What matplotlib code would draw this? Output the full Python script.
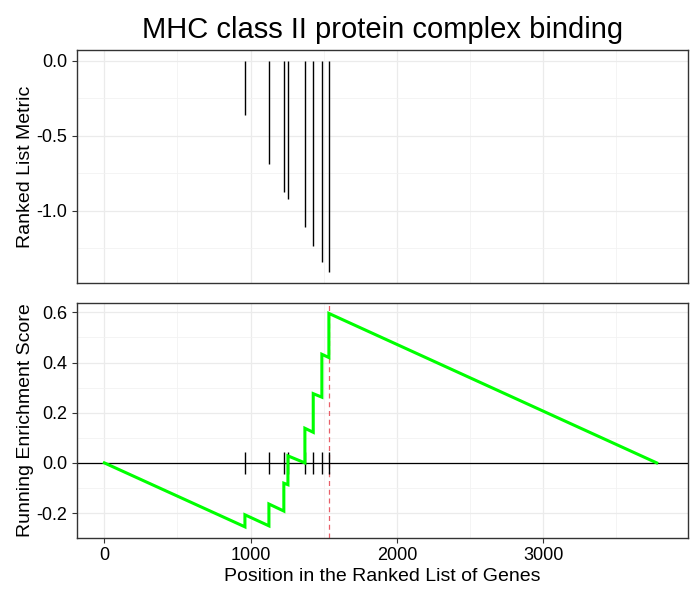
import matplotlib
matplotlib.use("Agg")
import matplotlib.pyplot as plt
from matplotlib.ticker import MultipleLocator

plt.rcParams['font.family'] = ['Liberation Sans', 'DejaVu Sans']

title = "MHC class II protein complex binding"

# hit positions and ranked list metric values
hit_pos = [961, 1125, 1227, 1255, 1371, 1428, 1487, 1535]
hit_metric = [-0.36, -0.686, -0.873, -0.92, -1.107, -1.233, -1.34, -1.41]

# running enrichment score vertices
es_x = [0, 961, 961, 1125, 1125, 1227, 1227, 1255, 1255, 1371, 1371,
        1428, 1428, 1487, 1487, 1535, 1535, 3776]
es_y = [0.0, -0.255, -0.207, -0.251, -0.164, -0.192, -0.081, -0.087, 0.028,
        0.0, 0.138, 0.122, 0.276, 0.262, 0.433, 0.420, 0.596, 0.0]

peak_pos = 1535

fig = plt.figure(figsize=(7, 6), dpi=100)
left, right = 77 / 700, 688 / 700
ax1 = fig.add_axes([left, 1 - 283 / 600, right - left, (283 - 50) / 600])
ax2 = fig.add_axes([left, 1 - 537.5 / 600, right - left, (537.5 - 303) / 600])

border = '#333333'
grid_major = '#EBEBEB'
grid_minor = '#F2F2F2'

xlim = (-187, 3990)

for ax in (ax1, ax2):
    ax.set_xlim(*xlim)
    ax.xaxis.set_major_locator(MultipleLocator(1000))
    ax.xaxis.set_minor_locator(MultipleLocator(500))
    ax.grid(True, which='major', color=grid_major, linewidth=0.9, zorder=0)
    ax.grid(True, which='minor', color=grid_minor, linewidth=0.6, zorder=0)
    ax.set_axisbelow(True)
    for s in ax.spines.values():
        s.set_color(border)
        s.set_linewidth(1.0)
    ax.tick_params(which='major', direction='out', length=3.5, width=0.8,
                   color=border, labelsize=13, labelcolor='black')
    ax.tick_params(which='minor', length=0)

# top panel
ax1.vlines(hit_pos, 0, hit_metric, color='black', linewidth=1.0, zorder=3)
ax1.set_ylim(-1.48, 0.07)
ax1.yaxis.set_major_locator(MultipleLocator(0.5))
ax1.yaxis.set_minor_locator(MultipleLocator(0.25))
ax1.set_yticks([0.0, -0.5, -1.0])
ax1.set_yticklabels(['0.0', '-0.5', '-1.0'])
ax1.tick_params(axis='x', which='both', length=0, labelbottom=False)
ax1.set_ylabel('Ranked List Metric', fontsize=14, labelpad=2)
ax1.set_title(title, fontsize=21, pad=9)

# bottom panel
ax2.set_ylim(-0.2975, 0.6375)
ax2.yaxis.set_major_locator(MultipleLocator(0.2))
ax2.yaxis.set_minor_locator(MultipleLocator(0.1))
ax2.axhline(0, color='black', linewidth=0.9, zorder=2)
ax2.vlines(hit_pos, -0.045, 0.045, color='black', linewidth=1.0, zorder=3)
ax2.axvline(peak_pos, color='#E8606A', linestyle=(0, (4, 3)), linewidth=0.9, zorder=2)
ax2.plot(es_x, es_y, color='#00FF00', linewidth=2.2, zorder=4,
         solid_joinstyle='miter')
ax2.set_yticks([-0.2, 0.0, 0.2, 0.4, 0.6])
ax2.set_yticklabels(['-0.2', '0.0', '0.2', '0.4', '0.6'])
ax2.set_ylabel('Running Enrichment Score', fontsize=14, labelpad=2)
ax2.set_xlabel('Position in the Ranked List of Genes', fontsize=14, labelpad=3)

fig.savefig('out.png', dpi=100)
